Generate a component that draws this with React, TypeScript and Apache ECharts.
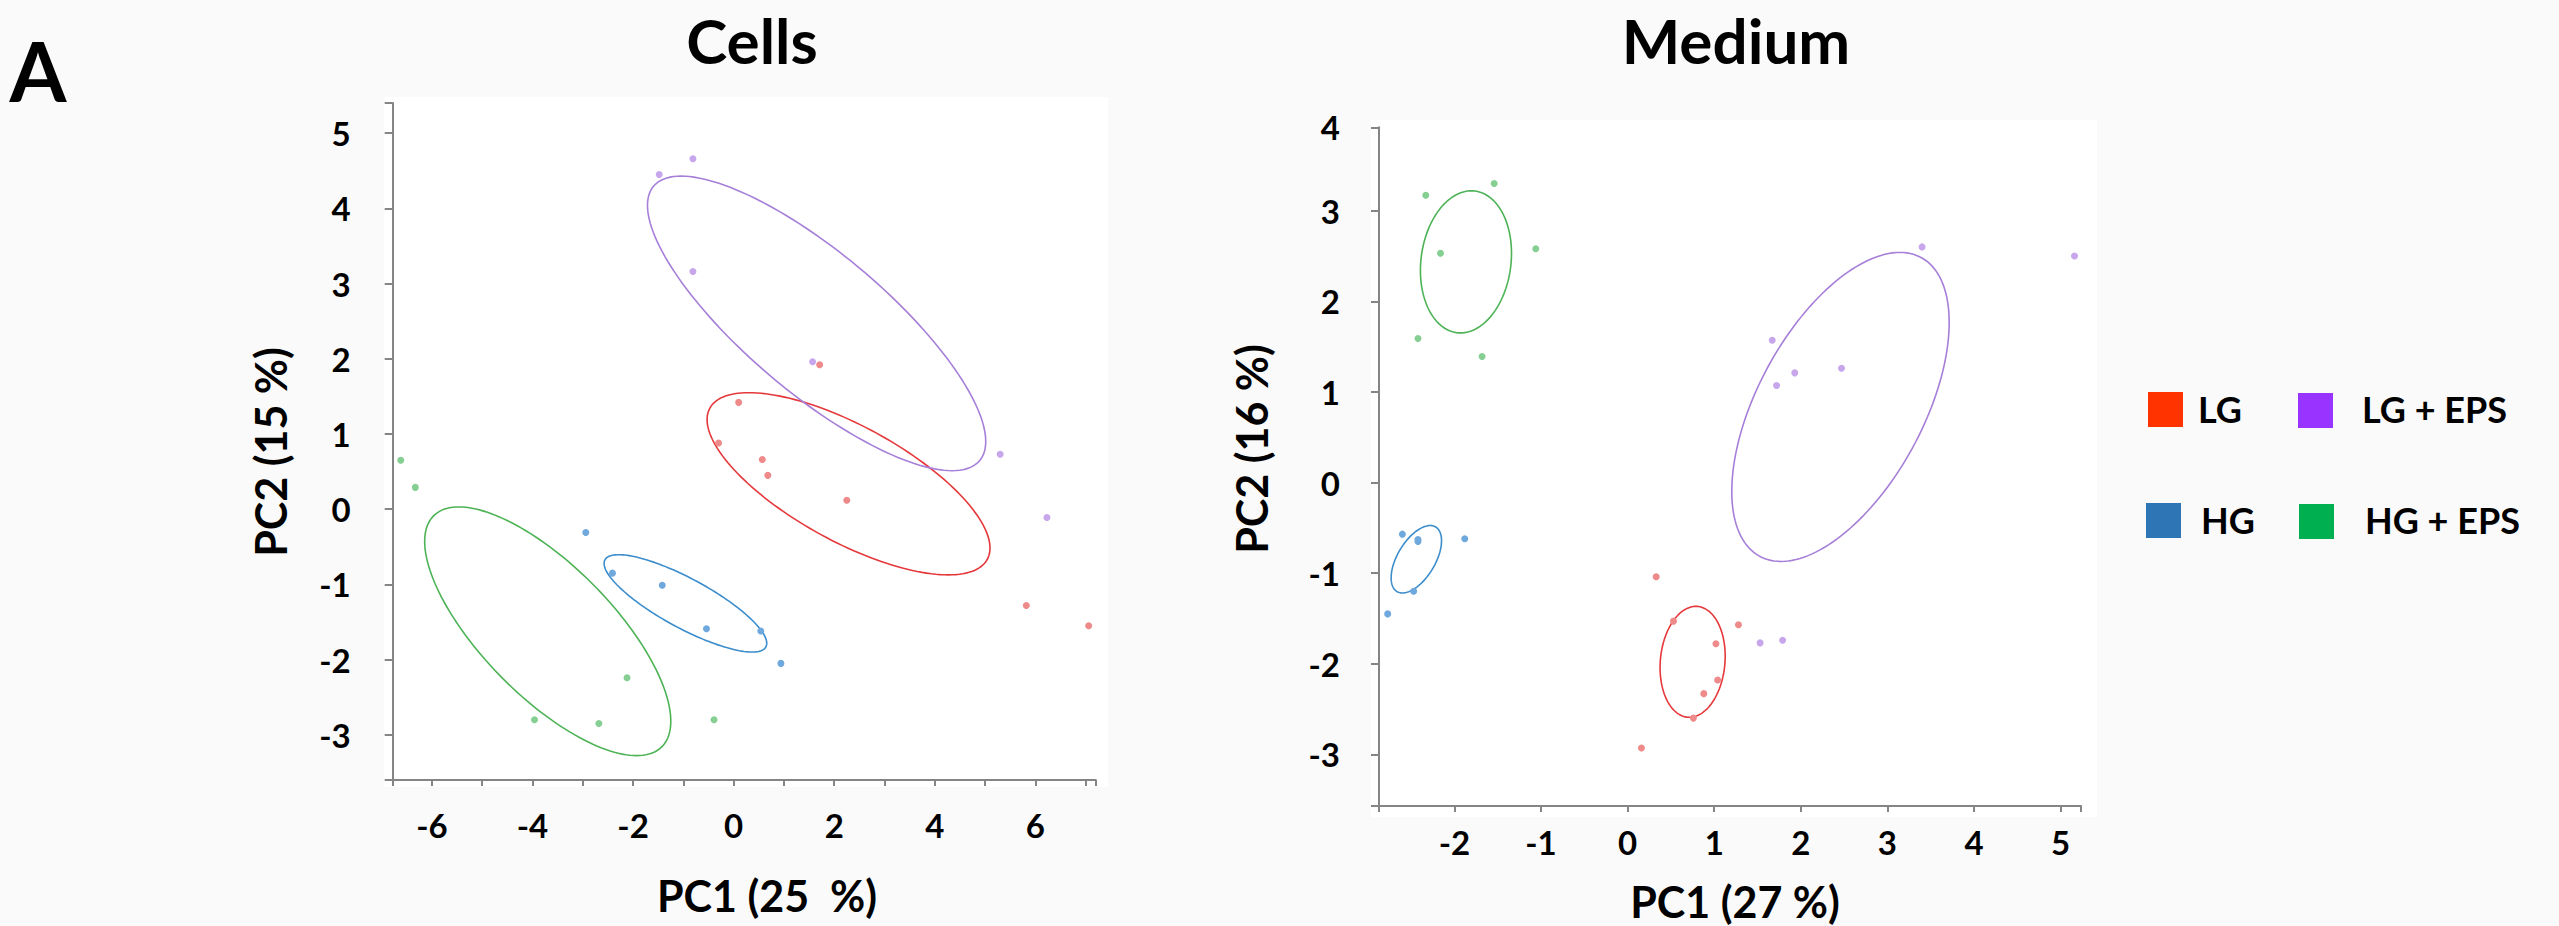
import React, { useEffect, useRef } from "react";
import * as echarts from "echarts";

// ---------- DATA ----------
const groups = ["LG", "HG", "LG + EPS", "HG + EPS"];

// Cells panel points [PC1, PC2]
const cellsLG = [[1.71, 1.92], [0.10, 1.42], [-0.30, 0.88], [0.57, 0.66], [0.68, 0.45], [2.25, 0.12], [5.82, -1.28], [7.06, -1.55]];
const cellsHG = [[-2.94, -0.31], [-2.41, -0.85], [-1.42, -1.01], [-0.54, -1.59], [0.54, -1.62], [0.94, -2.05]];
const cellsLGEPS = [[-1.48, 4.45], [-0.81, 4.66], [-0.81, 3.16], [1.57, 1.96], [5.30, 0.73], [6.23, -0.11]];
const cellsHGEPS = [[-6.62, 0.65], [-6.33, 0.29], [-2.12, -2.24], [-3.96, -2.80], [-2.68, -2.85], [-0.39, -2.80]];

// Medium panel points [PC1, PC2]
const mediumLG = [[0.33, -1.04], [0.53, -1.53], [1.28, -1.57], [1.02, -1.78], [1.04, -2.18], [0.88, -2.33], [0.76, -2.60], [0.16, -2.93]];
const mediumHG = [[-2.60, -0.57], [-2.42, -0.63], [-2.42, -0.65], [-1.88, -0.62], [-2.47, -1.20], [-2.77, -1.45]];
const mediumLGEPS = [[3.40, 2.60], [5.16, 2.50], [1.67, 1.57], [1.93, 1.21], [2.47, 1.26], [1.72, 1.07], [1.53, -1.77], [1.79, -1.74]];
const mediumHGEPS = [[-2.33, 3.17], [-1.54, 3.30], [-2.16, 2.53], [-1.06, 2.58], [-2.42, 1.59], [-1.68, 1.39]];

// Confidence ellipses: [centerX, centerY, u.x, u.y, v.x, v.y] (conjugate semi-diameters, data units)
const cellsEllLG = [2.285, 0.338, -1.983, 1.211, 1.995, 0];
const cellsEllHG = [-0.959, -1.252, -1.326, 0.647, 0.926, 0];
const cellsEllLGEPS = [1.65, 2.47, -2.695, 1.958, 2.012, 0];
const cellsEllHGEPS = [-3.697, -1.623, -1.768, 1.653, 1.692, 0];

const mediumEllLG = [0.751, -1.979, 0.038, 0.612, 0.374, 0];
const mediumEllHG = [-2.439, -0.847, 0.16, 0.372, 0.243, 0];
const mediumEllLGEPS = [2.458, 0.834, 0.686, 1.705, 1.051, 0];
const mediumEllHGEPS = [-1.866, 2.435, 0.063, 0.784, 0.522, 0];

// Axes
const cellsXRange = [-6.78, 7.2];
const cellsYRange = [-3.6, 5.4];
const cellsXTicks = [-6.78, -6, -5, -4, -3, -2, -1, 0, 1, 2, 3, 4, 5, 6, 7, 7.2];
const cellsXLabels = [-6, -4, -2, 0, 2, 4, 6];
const cellsYTicks = [-3.6, -3, -2, -1, 0, 1, 2, 3, 4, 5, 5.4];
const cellsYLabels = [-3, -2, -1, 0, 1, 2, 3, 4, 5];

const mediumXRange = [-2.87, 5.235];
const mediumYRange = [-3.57, 3.92];
const mediumXTicks = [-2.87, -2, -1, 0, 1, 2, 3, 4, 5, 5.235];
const mediumXLabels = [-2, -1, 0, 1, 2, 3, 4, 5];
const mediumYTicks = [-3.57, -3, -2, -1, 0, 1, 2, 3, 3.92];
const mediumYLabelValues = [-3, -2, -1, 0, 1, 2, 3, 3.92];
const mediumYLabelTexts = ["-3", "-2", "-1", "0", "1", "2", "3", "4"];

// Colours
const pointColors = ["#EE8A8A", "#6FA8DC", "#C7A6EC", "#86CF93"];
const ellipseColors = ["#E5383B", "#3C8DCC", "#A67FD8", "#4DB356"];
const legendColors = ["#FF3300", "#2E75B6", "#9933FF", "#00B050"];

const FONT = "Lato, 'Open Sans', sans-serif";
const WEIGHT = "bold";
const AXIS_COLOR = "#858585";

function ellipseRenderer(color: string) {
  return (params: any, api: any) => {
    const cx = api.value(0), cy = api.value(1);
    const ux = api.value(2), uy = api.value(3);
    const vx = api.value(4), vy = api.value(5);
    const pts: number[][] = [];
    const n = 160;
    for (let i = 0; i <= n; i++) {
      const t = (i / n) * Math.PI * 2;
      const c = Math.cos(t), s = Math.sin(t);
      pts.push(api.coord([cx + ux * c + vx * s, cy + uy * c + vy * s]));
    }
    return {
      type: "polyline",
      shape: { points: pts },
      style: { fill: "none", stroke: color, lineWidth: 1.6 },
    };
  };
}

function makeAxis(gridIndex: number, range: number[], ticks: number[], labels: number[], isX: boolean, margin: number, formatter?: (v: number) => string) {
  return {
    type: "value",
    gridIndex,
    min: range[0],
    max: range[1],
    splitLine: { show: false },
    axisLine: { show: true, onZero: false, lineStyle: { color: AXIS_COLOR, width: 2 } },
    axisTick: { show: true, customValues: ticks, length: isX ? 6 : 8, lineStyle: { color: AXIS_COLOR, width: 2 } },
    axisLabel: {
      show: true,
      customValues: labels,
      margin,
      color: "#000",
      fontFamily: FONT,
      fontWeight: WEIGHT,
      fontSize: 33,
      formatter: formatter || ((v: number) => String(v)),
    },
  };
}

export default function App() {
  const ref = useRef<HTMLDivElement>(null);
  useEffect(() => {
    if (!ref.current) return;
    const chart = echarts.init(ref.current, null, { renderer: "svg" });

    const cellsPts = [cellsLG, cellsHG, cellsLGEPS, cellsHGEPS];
    const mediumPts = [mediumLG, mediumHG, mediumLGEPS, mediumHGEPS];
    const cellsEll = [cellsEllLG, cellsEllHG, cellsEllLGEPS, cellsEllHGEPS];
    const mediumEll = [mediumEllLG, mediumEllHG, mediumEllLGEPS, mediumEllHGEPS];

    const series: any[] = [];
    groups.forEach((g, i) => {
      series.push({
        type: "custom", name: g + " ellipse", xAxisIndex: 0, yAxisIndex: 0,
        renderItem: ellipseRenderer(ellipseColors[i]), data: [cellsEll[i]], silent: true, z: 2,
      });
      series.push({
        type: "custom", name: g + " ellipse", xAxisIndex: 1, yAxisIndex: 1,
        renderItem: ellipseRenderer(ellipseColors[i]), data: [mediumEll[i]], silent: true, z: 2,
      });
      series.push({
        type: "scatter", name: g, xAxisIndex: 0, yAxisIndex: 0, data: cellsPts[i],
        symbolSize: 7, itemStyle: { color: pointColors[i], opacity: 1 }, z: 3,
      });
      series.push({
        type: "scatter", name: g, xAxisIndex: 1, yAxisIndex: 1, data: mediumPts[i],
        symbolSize: 7, itemStyle: { color: pointColors[i], opacity: 1 }, z: 3,
      });
    });

    const textStyle = (size: number) => ({ fontFamily: FONT, fontWeight: WEIGHT, fontSize: size, fill: "#000" });

    const legendPos = [
      { rx: 2148, ry: 392, tx: 2198, ty: 409 },
      { rx: 2146, ry: 503, tx: 2201, ty: 520 },
      { rx: 2298, ry: 393, tx: 2362, ty: 409 },
      { rx: 2299, ry: 504, tx: 2365, ty: 520 },
    ];

    const graphics: any[] = [
      { type: "rect", z: -10, shape: { x: 384, y: 97, width: 724, height: 690 }, style: { fill: "#ffffff" }, silent: true },
      { type: "rect", z: -10, shape: { x: 1371, y: 120, width: 726, height: 697 }, style: { fill: "#ffffff" }, silent: true },
      { type: "text", x: 38, y: 70, style: { text: "A", ...textStyle(82), align: "center", verticalAlign: "middle" } },
      { type: "text", x: 752, y: 40, style: { text: "Cells", ...textStyle(62), align: "center", verticalAlign: "middle" } },
      { type: "text", x: 1736, y: 40, style: { text: "Medium", ...textStyle(62), align: "center", verticalAlign: "middle" } },
      { type: "text", x: 270, y: 452, rotation: Math.PI / 2, style: { text: "PC2 (15 %)", ...textStyle(43), align: "center", verticalAlign: "middle" } },
      { type: "text", x: 767, y: 895, style: { text: "PC1 (25  %)", ...textStyle(43), align: "center", verticalAlign: "middle" } },
      { type: "text", x: 1251, y: 449, rotation: Math.PI / 2, style: { text: "PC2 (16 %)", ...textStyle(43), align: "center", verticalAlign: "middle" } },
      { type: "text", x: 1735, y: 901, style: { text: "PC1 (27 %)", ...textStyle(43), align: "center", verticalAlign: "middle" } },
    ];
    groups.forEach((g, i) => {
      const p = legendPos[i];
      graphics.push({ type: "rect", shape: { x: p.rx, y: p.ry, width: 35, height: 35 }, style: { fill: legendColors[i] } });
      graphics.push({ type: "text", x: p.tx, y: p.ty, style: { text: g, ...textStyle(36), align: "left", verticalAlign: "middle" } });
    });

    chart.setOption({
      animation: false,
      backgroundColor: "#fafafa",
      grid: [
        { left: 392.7, top: 103, width: 703, height: 677 },
        { left: 1379, top: 127.3, width: 702, height: 678.7 },
      ],
      xAxis: [
        makeAxis(0, cellsXRange, cellsXTicks, cellsXLabels, true, 28),
        makeAxis(1, mediumXRange, mediumXTicks, mediumXLabels, true, 19),
      ],
      yAxis: [
        makeAxis(0, cellsYRange, cellsYTicks, cellsYLabels, false, 42),
        makeAxis(1, mediumYRange, mediumYTicks, mediumYLabelValues, false, 39, (v: number) => {
          const idx = mediumYLabelValues.findIndex((x) => Math.abs(x - v) < 1e-6);
          return idx >= 0 ? mediumYLabelTexts[idx] : "";
        }),
      ],
      graphic: { elements: graphics },
      series,
    });
    return () => chart.dispose();
  }, []);

  return (
    <div
      ref={ref}
      style={{ position: "absolute", left: 0, top: 0, width: 2559, height: 926, background: "#fafafa" }}
    />
  );
}
